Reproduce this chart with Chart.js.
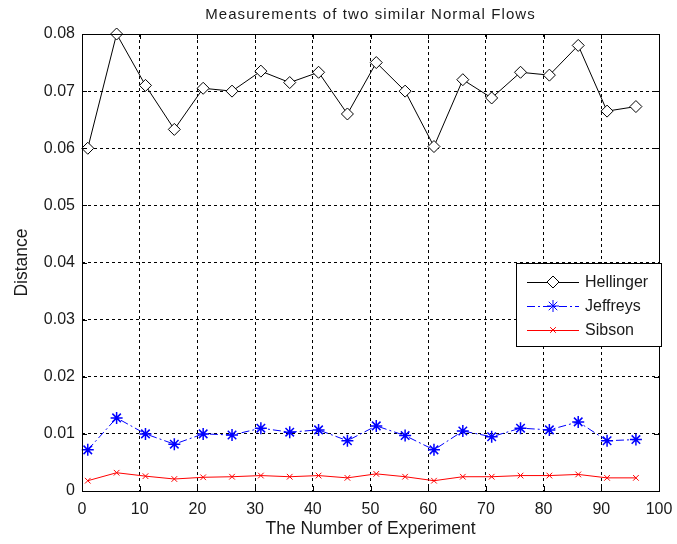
<!DOCTYPE html>
<html>
<head>
<meta charset="utf-8">
<script src="https://cdn.jsdelivr.net/npm/chart.js@4"></script>
<style>
  body { margin: 0; background: #fff; }
  #wrap { width: 677px; height: 544px; }
</style>
</head>
<body>
<div id="wrap"><canvas id="chart" width="677" height="544"></canvas></div>
<script>
const experiments = [1, 6, 11, 16, 21, 26, 31, 36, 41, 46, 51, 56, 61, 66, 71, 76, 81, 86, 91, 96];
const hellinger = [0.0600, 0.0800, 0.0710, 0.0633, 0.0705, 0.0700, 0.0735, 0.0715, 0.0733, 0.0660,
                   0.0750, 0.0700, 0.0603, 0.0720, 0.0688, 0.0733, 0.0728, 0.0780, 0.0665, 0.0673];
const jeffreys = [0.0072, 0.0128, 0.0100, 0.0082, 0.0100, 0.0098, 0.0110, 0.0103, 0.0107, 0.0088,
                  0.0114, 0.0097, 0.0072, 0.0105, 0.0095, 0.0110, 0.0107, 0.0121, 0.0088, 0.0090];
const sibson = [0.0018, 0.0032, 0.0026, 0.0021, 0.0024, 0.0025, 0.0027, 0.0025, 0.0027, 0.0023,
                0.0030, 0.0025, 0.0018, 0.0025, 0.0025, 0.0027, 0.0027, 0.0029, 0.0023, 0.0023];
const xTicks = [0, 10, 20, 30, 40, 50, 60, 70, 80, 90, 100];
const yTicks = [0, 0.01, 0.02, 0.03, 0.04, 0.05, 0.06, 0.07, 0.08];

const toPoints = (vals) => vals.map((v, i) => ({ x: experiments[i], y: v }));
const FONT = "'Liberation Sans', Arial, sans-serif";
const TEXT = "#1a1a1a";

// MATLAB style box, inward ticks and legend
const matlabBox = {
  id: "matlabBox",
  afterDraw(chart) {
    const ctx = chart.ctx;
    const a = chart.chartArea;
    const xs = chart.scales.x, ys = chart.scales.y;
    ctx.save();
    ctx.strokeStyle = "#000";
    ctx.lineWidth = 1;
    ctx.setLineDash([]);
    ctx.strokeRect(Math.round(a.left) + 0.5, Math.round(a.top) + 0.5,
                   Math.round(a.right - a.left), Math.round(a.bottom - a.top));
    ctx.beginPath();
    xTicks.forEach((t) => {
      const px = Math.round(xs.getPixelForValue(t)) + 0.5;
      ctx.moveTo(px, a.bottom); ctx.lineTo(px, a.bottom - 5);
      ctx.moveTo(px, a.top); ctx.lineTo(px, a.top + 5);
    });
    yTicks.forEach((t) => {
      const py = Math.round(ys.getPixelForValue(t)) + 0.5;
      ctx.moveTo(a.left, py); ctx.lineTo(a.left + 5, py);
      ctx.moveTo(a.right, py); ctx.lineTo(a.right - 5, py);
    });
    ctx.stroke();

    // legend
    const lx = 516, ly = 263, lw = 145, lh = 83;
    ctx.fillStyle = "#fff";
    ctx.fillRect(lx, ly, lw, lh);
    ctx.strokeRect(lx + 0.5, ly + 0.5, lw, lh);
    ctx.font = "16px " + FONT;
    ctx.textBaseline = "middle";
    chart.data.datasets.forEach((ds, i) => {
      const y = ly + 19 + i * 24;
      ctx.strokeStyle = ds.borderColor;
      ctx.setLineDash(ds.borderDash || []);
      ctx.beginPath();
      ctx.moveTo(lx + 11, y + 0.5); ctx.lineTo(lx + 63, y + 0.5);
      ctx.stroke();
      ctx.setLineDash([]);
      ctx.fillStyle = ds.pointBackgroundColor || ds.borderColor;
      Chart.helpers.drawPoint(ctx, {
        pointStyle: ds.pointStyle, radius: ds.pointRadius, borderWidth: ds.pointBorderWidth
      }, lx + 37, y);
      ctx.fillStyle = TEXT;
      ctx.fillText(ds.label, lx + 69, y + 1);
    });
    ctx.restore();
  }
};

new Chart(document.getElementById("chart"), {
  type: "line",
  data: {
    datasets: [
      {
        label: "Hellinger",
        data: toPoints(hellinger),
        borderColor: "#000",
        backgroundColor: "#fff",
        borderWidth: 1,
        pointStyle: "rectRot",
        pointRadius: 6,
        pointBorderColor: "#000",
        pointBackgroundColor: "#fff",
        pointBorderWidth: 1,
        clip: false,
        tension: 0
      },
      {
        label: "Jeffreys",
        data: toPoints(jeffreys),
        borderColor: "#0000ff",
        backgroundColor: "#0000ff",
        borderWidth: 1,
        borderDash: [8, 3, 2, 3],
        pointStyle: "star",
        pointRadius: 6,
        pointBorderColor: "#0000ff",
        pointBorderWidth: 1.5,
        clip: false,
        tension: 0
      },
      {
        label: "Sibson",
        data: toPoints(sibson),
        borderColor: "#ff0000",
        backgroundColor: "#ff0000",
        borderWidth: 1,
        pointStyle: "crossRot",
        pointRadius: 4,
        pointBorderColor: "#ff0000",
        pointBorderWidth: 1,
        clip: false,
        tension: 0
      }
    ]
  },
  options: {
    responsive: false,
    animation: false,
    layout: { padding: { top: 34, right: 18, left: 0, bottom: 0 } },
    plugins: {
      legend: { display: false },
      tooltip: { enabled: false },
      title: { display: false }
    },
    scales: {
      x: {
        type: "linear",
        min: 0, max: 100,
        afterFit: (s) => { s.height = 53; s.paddingLeft = 0; s.paddingRight = 0; },
        afterBuildTicks: (s) => { s.ticks = xTicks.map((v) => ({ value: v })); },
        grid: { color: "#000", drawTicks: false, lineWidth: 1 },
        border: { display: false, dash: [3, 3] },
        ticks: { color: TEXT, font: { family: FONT, size: 16 }, padding: 9 },
        title: { display: true, text: "The Number of Experiment", color: TEXT,
                 font: { family: FONT, size: 17.5 }, padding: { top: 0 } }
      },
      y: {
        type: "linear",
        min: 0, max: 0.08,
        afterFit: (s) => { s.width = 82; s.paddingTop = 0; s.paddingBottom = 0; },
        afterBuildTicks: (s) => { s.ticks = yTicks.map((v) => ({ value: v })); },
        grid: { color: "#000", drawTicks: false, lineWidth: 1 },
        border: { display: false, dash: [3, 3] },
        ticks: {
          color: TEXT, font: { family: FONT, size: 16 }, padding: 7,
          callback: (v) => (v === 0 ? "0" : v.toFixed(2))
        },
        title: { display: true, text: "Distance", color: TEXT,
                 font: { family: FONT, size: 17.5 }, padding: { bottom: 0, top: 12 } }
      }
    }
  },
  plugins: [matlabBox, {
    id: "topTitle",
    afterDraw(chart) {
      const ctx = chart.ctx;
      ctx.save();
      ctx.font = "15px " + FONT;
      ctx.letterSpacing = "1.1px";
      ctx.fillStyle = TEXT;
      ctx.textAlign = "center";
      ctx.textBaseline = "middle";
      ctx.fillText("Measurements of two similar Normal Flows",
                   (chart.chartArea.left + chart.chartArea.right) / 2, 15);
      ctx.restore();
    }
  }]
});
</script>
</body>
</html>
